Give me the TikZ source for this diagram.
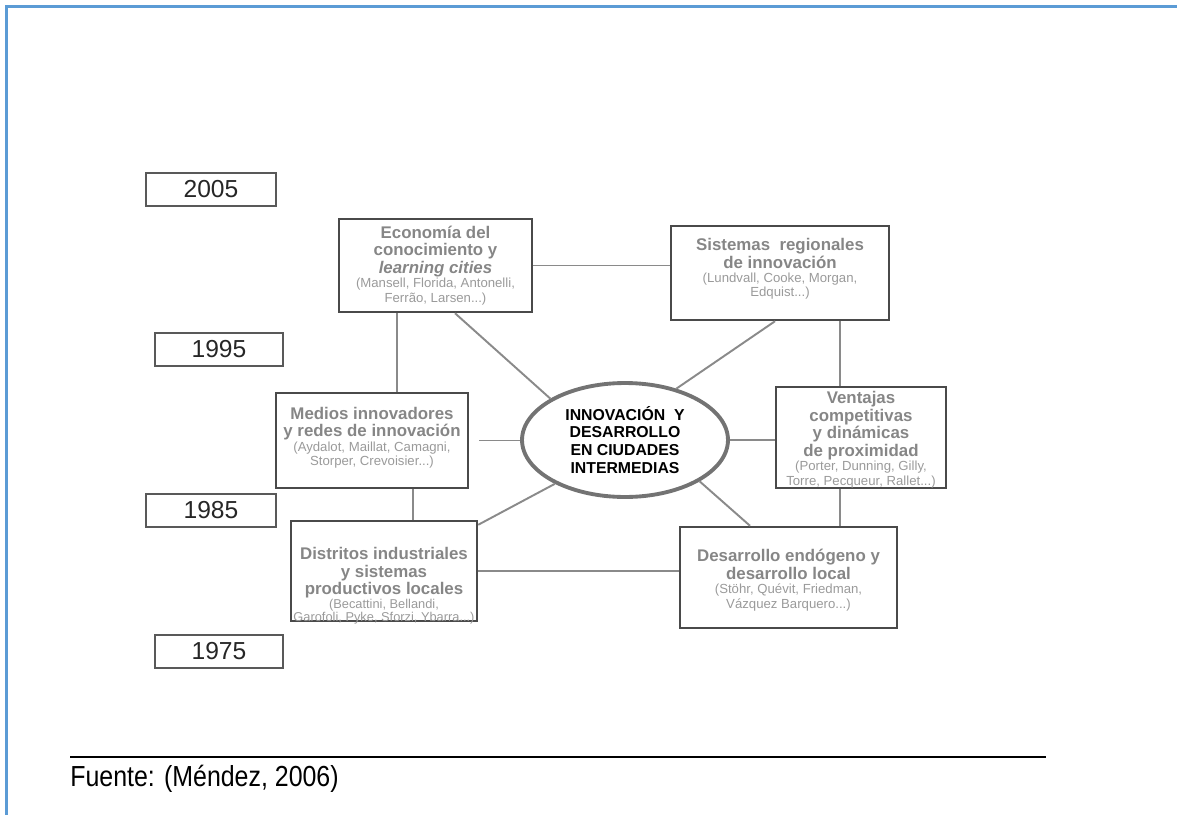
\documentclass[tikz,border=0pt]{standalone}
\usepackage{fontspec}
\setmainfont{Liberation Sans}
\usetikzlibrary{shapes.geometric}
\definecolor{bordegris}{HTML}{4A4A4A}
\definecolor{lineagris}{HTML}{8A8A8A}
\definecolor{textogris}{HTML}{868686}
\definecolor{autorgris}{HTML}{9A9A9A}
\definecolor{marcoazul}{HTML}{5B9BD5}
\def\titulo#1{{\fontsize{9.6}{10}\selectfont\bfseries\color{textogris}#1\par}}
\def\autores#1{{\fontsize{7.5}{8.2}\selectfont\color{autorgris}#1\par}}
\def\holgura#1{\vskip#1\hrule height0pt}
\tikzset{
	tema/.style={draw=bordegris, line width=1.4pt, inner xsep=0pt, inner ysep=0pt, align=flush center},
	anio/.style={draw=black!65, line width=1pt, inner sep=0pt, text=black!85, font=\fontsize{14}{16}\selectfont},
	enlace/.style={draw=lineagris, line width=1.1pt}
}

\begin{document}
\begin{tikzpicture}[x=0.02cm, y=-0.02cm]
				\useasboundingbox (0,0) rectangle (1177,815);
				\draw[marcoazul, line width=1.6pt] (6.5,815) -- (6.5,6.5) -- (1177,6.5);
				
				\node[anio, minimum width=2.6cm, minimum height=0.66cm] (a2005) at (211,189.5) {2005};
				\node[anio, minimum width=2.56cm, minimum height=0.66cm] (a1995) at (219,349.5) {1995};
				\node[anio, minimum width=2.6cm, minimum height=0.66cm] (a1985) at (211,510.5) {1985};
				\node[anio, minimum width=2.56cm, minimum height=0.66cm] (a1975) at (219,651.5) {1975};
				
				\node[tema, text width=3.86cm, minimum height=1.86cm] (econ) at (435.5,265.5) {\titulo{Economía del\\conocimiento y\\\textit{learning cities}}\autores{(Mansell, Florida, Antonelli,\\Ferrão, Larsen...)}};
				\node[tema, text width=4.36cm, minimum height=1.88cm] (sist) at (780,273) {\titulo{Sistemas\ \ regionales\\de innovación}\autores{(Lundvall, Cooke, Morgan,\\Edquist...)}\holgura{4.5pt}};
				\node[tema, text width=3.84cm, minimum height=1.9cm] (medios) at (372,440.5) {\titulo{Medios innovadores\\y redes de innovación}\autores{(Aydalot, Maillat, Camagni,\\Storper, Crevoisier...)}\holgura{3pt}};
				\node[tema, text width=3.4cm, minimum height=2.02cm] (vent) at (861,437.5) {\titulo{Ventajas\\competitivas\\y dinámicas\\de proximidad}\autores{(Porter, Dunning, Gilly,\\Torre, Pecqueur, Rallet...)}\holgura{-2.5pt}};
				\node[tema, text width=3.72cm, minimum height=2cm] (dist) at (384,571) {\titulo{Distritos industriales\\y sistemas\\productivos locales}{\fontsize{7.3}{7.6}\selectfont\color{autorgris}(Becattini, Bellandi,\\Garofoli, Pyke, Sforzi, Ybarra...)\par}\holgura{-17pt}};
				\node[tema, text width=4.34cm, minimum height=2.02cm] (desa) at (788.5,577.5) {\titulo{Desarrollo endógeno y\\desarrollo local}\autores{(Stöhr, Quévit, Friedman,\\Vázquez Barquero...)}\holgura{-3pt}};
				
				\node[ellipse, draw=black!55, line width=2.2pt, minimum width=4.12cm, minimum height=2.28cm, align=center, font=\fontsize{9}{10.2}\selectfont\bfseries] (centro) at (625,440) {INNOVACIÓN\ \ Y\\DESARROLLO\\EN CIUDADES\\INTERMEDIAS};
				
				\draw[enlace] (econ.east) -- (econ.east -| sist.west);
				\draw[enlace] ([xshift=0.5cm]medios.north) -- ([xshift=0.5cm]medios.north |- econ.south);
				\draw[enlace] ([xshift=0.39cm]econ.south) -- (centro.151);
				\draw[enlace] ([xshift=-0.1cm]sist.south) -- (centro.45);
				\draw[enlace] ([xshift=-0.42cm]vent.north) -- ([xshift=-0.42cm]vent.north |- sist.south);
				\draw[enlace, shorten <=0.2cm] (medios.east) -- (medios.east -| centro.west);
				\draw[enlace] (centro.east) -- (centro.east -| vent.west);
				\draw[enlace] ([xshift=0.82cm]medios.south) -- ([xshift=0.82cm]medios.south |- dist.north);
				\draw[enlace] ([yshift=-0.1cm]dist.north east) -- (centro.212);
				\draw[enlace] ([xshift=-0.77cm]desa.north) -- (centro.-29);
				\draw[enlace] ([xshift=-0.42cm]vent.south) -- ([xshift=-0.42cm]vent.south |- desa.north);
				\draw[enlace] (dist.east) -- (dist.east -| desa.west);
				
				\draw[line width=1.2pt] (70,757) -- (1046,757);
				\node[anchor=base west, inner sep=0pt, xscale=0.86, font=\fontsize{16.5}{18}\selectfont] (fuente) at (70,786) {Fuente: (Méndez, 2006)};
\end{tikzpicture}
\end{document}
